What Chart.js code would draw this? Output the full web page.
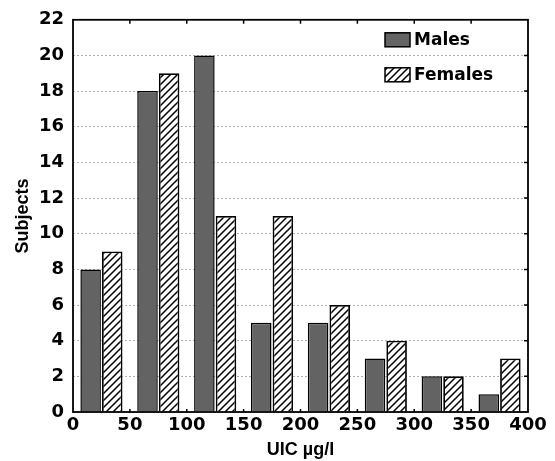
<!DOCTYPE html>
<html>
<head>
<meta charset="utf-8">
<script src="https://cdn.jsdelivr.net/npm/chart.js@4.4.0/dist/chart.umd.min.js"></script>
<style>
  html, body { margin: 0; padding: 0; background: #fff; }
</style>
</head>
<body>
<canvas id="uicChart" width="555" height="461"></canvas>
<script>
// bins of 50 µg/l
const binLabels = ["0-50", "50-100", "100-150", "150-200", "200-250", "250-300", "300-350", "350-400"];
const males = [8, 18, 20, 5, 5, 3, 2, 1];
const females = [9, 19, 11, 11, 6, 4, 2, 3];
const xMin = 0, xMax = 400, xStep = 50;
const yMin = 0, yMax = 22, yStep = 2;

const tickFont = { family: "DejaVu Sans", size: 18, weight: "bold" };
const titleFont = { family: "Liberation Sans", size: 18, weight: "bold" };

var canvas = document.getElementById("uicChart");
var ctx = canvas.getContext("2d");

function hatchPattern() {
  let c = document.createElement("canvas");
  let s = 7;
  c.width = s;
  c.height = s;
  let g = c.getContext("2d");
  g.fillStyle = "#fff";
  g.fillRect(0, 0, s, s);
  g.strokeStyle = "#000";
  g.lineWidth = 1.5;
  g.beginPath();
  g.moveTo(-1, s + 1); g.lineTo(s + 1, -1);
  g.moveTo(-2, 2); g.lineTo(2, -2);
  g.moveTo(s - 2, s + 2); g.lineTo(s + 2, s - 2);
  g.stroke();
  return ctx.createPattern(c, "repeat");
}
const hatch = hatchPattern();

// frame + inward ticks like the original
const framePlugin = {
  id: "frame",
  afterDatasetsDraw(chart) {
    let a = chart.chartArea;
    let c = chart.ctx;
    let xs = chart.scales.x2;
    let ys = chart.scales.y;
    c.save();
    c.strokeStyle = "#000";
    c.lineWidth = 1.8;
    c.strokeRect(a.left, a.top, a.right - a.left, a.bottom - a.top);
    c.lineWidth = 1.5;
    c.beginPath();
    for (let v = yMin + yStep; v < yMax; v += yStep) {
      let y = ys.getPixelForValue(v);
      c.moveTo(a.right, y);
      c.lineTo(a.right - 4, y);
    }
    for (let v = xMin + xStep; v < xMax; v += xStep) {
      let x = xs.getPixelForValue(v);
      c.moveTo(x, a.top);
      c.lineTo(x, a.top + 4);
      c.moveTo(x, a.bottom);
      c.lineTo(x, a.bottom - 3);
    }
    c.stroke();
    c.restore();
  },
};

const legendPlugin = {
  id: "innerLegend",
  afterDraw(chart) {
    let a = chart.chartArea;
    let c = chart.ctx;
    c.save();
    c.font = "bold 17px 'DejaVu Sans'";
    c.textBaseline = "middle";
    chart.data.datasets.forEach((ds, i) => {
      let bx = a.right - 143;
      let by = a.top + 13 + i * 35;
      c.fillStyle = ds.backgroundColor;
      c.fillRect(bx, by, 25, 14);
      c.strokeStyle = "#000";
      c.lineWidth = 1.5;
      c.strokeRect(bx, by, 25, 14);
      c.fillStyle = "#000";
      c.fillText(ds.label, bx + 29, by + 8);
    });
    c.restore();
  },
};

let chart_Data = {
  labels: binLabels,
  datasets: [
    {
      label: "Males",
      data: males,
      backgroundColor: "#636363",
      borderColor: "#000",
      borderWidth: 1.5,
      categoryPercentage: 0.76,
      barPercentage: 0.95,
    },
    {
      label: "Females",
      data: females,
      backgroundColor: hatch,
      borderColor: "#000",
      borderWidth: 1.8,
      categoryPercentage: 0.76,
      barPercentage: 0.95,
    },
  ],
};

let options = {
  responsive: false,
  animation: false,
  layout: { padding: { top: 19, right: 27, left: 0, bottom: 0 } },
  plugins: {
    legend: { display: false },
    tooltip: { enabled: false },
  },
  scales: {
    x: {
      type: "category",
      display: false,
    },
    x2: {
      type: "linear",
      position: "bottom",
      offset: false,
      min: xMin,
      max: xMax,
      border: { display: false },
      grid: { display: false, drawTicks: false },
      ticks: { stepSize: xStep, color: "#000", font: tickFont, padding: 3 },
      title: {
        display: true,
        text: "UIC µg/l",
        color: "#000",
        font: titleFont,
        padding: { top: 0, bottom: 0 },
      },
      afterFit: (scale) => { scale.height = 49; },
    },
    y: {
      min: yMin,
      max: yMax,
      border: { display: false, dash: [2, 2] },
      grid: { color: "#b0b0b0", drawTicks: false, lineWidth: 1 },
      ticks: { stepSize: yStep, color: "#000", font: tickFont, padding: 9 },
      title: {
        display: true,
        text: "Subjects",
        color: "#000",
        font: titleFont,
        padding: { top: 12, bottom: 0 },
      },
      afterFit: (scale) => { scale.width = 73; },
    },
  },
};

var myChart = new Chart(ctx, {
  type: "bar",
  data: chart_Data,
  options: options,
  plugins: [framePlugin, legendPlugin],
});
</script>
</body>
</html>
